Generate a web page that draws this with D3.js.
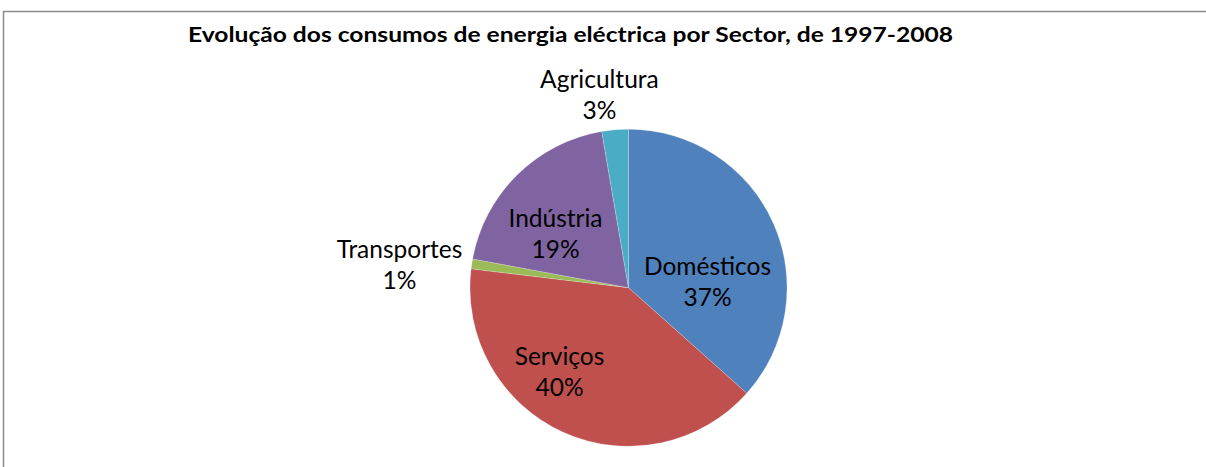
<!DOCTYPE html>
<html><head><meta charset="utf-8">
<script src="https://cdn.jsdelivr.net/npm/d3@7"></script>
<style>body{margin:0;background:#fff;}svg{display:block;}</style>
</head><body>
<svg id="c" width="1206" height="467"></svg>
<script>
const title = "Evolução dos consumos de energia eléctrica por Sector, de 1997-2008";
const categories = ["Domésticos", "Serviços", "Transportes", "Indústria", "Agricultura"];
const values = [36.6, 40.3, 1.0, 19.4, 2.7];
const percentLabels = ["37%", "40%", "1%", "19%", "3%"];
const colors = ["#4F81BD", "#C0504D", "#9BBB59", "#8064A2", "#4BACC6"];

const svg = d3.select("#c");
svg.append("rect").attr("x", 3.5).attr("y", 11.5).attr("width", 1210).attr("height", 480)
  .attr("fill", "#fff").attr("stroke", "#8c8c8c").attr("stroke-width", 1.5);

svg.append("text").attr("x", 188).attr("y", 42).text(title)
  .attr("font-family", "Lato, 'Open Sans', sans-serif").attr("font-weight", "bold")
  .attr("font-size", 21).attr("textLength", 765).attr("lengthAdjust", "spacingAndGlyphs").attr("fill", "#000");

const cx = 628.5, cy = 287.7, r = 158.5;
const data = categories.map((c, i) => ({c, v: values[i], p: percentLabels[i], col: colors[i]}));
const pie = d3.pie().value(d => d.v).sort(null);
const arc = d3.arc().innerRadius(0).outerRadius(r);
const arcs = pie(data);
const g = svg.append("g").attr("transform", `translate(${cx},${cy})`);
g.selectAll("path").data(arcs).join("path").attr("d", arc).attr("fill", d => d.data.col)
  .attr("stroke", "rgba(255,255,255,0.35)").attr("stroke-width", 0.6);

// label anchor offsets relative to pie centre (layout only)
const labelOffsets = [[79, -12.7], [-69, 77.3], [-229, -29.4], [-73, -61], [-29.1, -199.4]];
const lines = g.selectAll("g.lbl").data(arcs).join("g").attr("class", "lbl")
  .attr("transform", (d, i) => `translate(${labelOffsets[i][0]},${labelOffsets[i][1]})`);
lines.append("text").attr("text-anchor", "middle").attr("y", 0).text(d => d.data.c)
  .attr("font-family", "Lato, sans-serif").attr("font-size", 24.5).attr("fill", "#000");
lines.append("text").attr("text-anchor", "middle").attr("y", 31).text(d => d.data.p)
  .attr("font-family", "Lato, sans-serif").attr("font-size", 24.5).attr("fill", "#000");
</script>
</body></html>
